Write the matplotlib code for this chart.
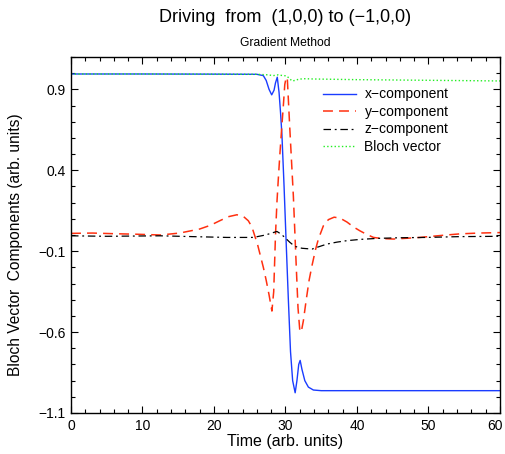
import matplotlib
matplotlib.use("Agg")
import matplotlib.pyplot as plt
import matplotlib.transforms as mtransforms
from matplotlib.ticker import MultipleLocator, FixedLocator

plt.rcParams['font.family'] = ['Liberation Sans', 'DejaVu Sans']

# x-component
t_x = [0, 10, 20, 26.0, 26.9, 27.3, 27.7, 28.07, 28.4, 28.6, 28.85, 29.1, 29.3, 29.5,
       29.8, 30.07, 30.4, 30.7, 31.0, 31.35, 31.6, 31.85, 32.05, 32.3, 32.7, 33.2,
       33.9, 35, 40, 50, 60]
x_vals = [0.995, 0.995, 0.994, 0.993, 0.985, 0.955, 0.9, 0.866, 0.895, 0.94, 0.975,
          0.88, 0.76, 0.62, 0.3, -0.02, -0.4, -0.72, -0.9, -0.975, -0.9, -0.8, -0.775,
          -0.83, -0.9, -0.94, -0.958, -0.962, -0.962, -0.962, -0.962]

# y-component
t_y = [0, 3, 6, 9, 12.5, 15.2, 18.0, 19.5, 20.8, 22.0, 23.2, 24.1, 24.8, 25.3, 25.7,
       26.1, 26.5, 26.9, 27.3, 27.7, 28.1, 28.35, 28.6, 28.8, 29.0, 29.2, 29.45, 29.7,
       29.9, 30.1, 30.25, 30.6, 31.1, 31.5, 31.75, 32.0, 32.2, 32.5, 32.9, 33.3, 33.7,
       34.2, 34.6, 35.3, 36.0, 36.8, 37.6, 38.6, 39.5, 40.4, 41.3, 42.3, 43.5, 45.1,
       47.0, 48.8, 50.5, 52.5, 54.4, 57, 60]
y_vals = [0.01, 0.012, 0.008, 0.005, 0.0, 0.012, 0.037, 0.06, 0.088, 0.113, 0.125,
          0.115, 0.088, 0.05, -0.005, -0.06, -0.13, -0.2, -0.28, -0.37, -0.47, -0.35,
          0.0, 0.2, 0.35, 0.49, 0.65, 0.8, 0.93, 0.975, 0.97, 0.66, 0.24, -0.19, -0.45,
          -0.59, -0.6, -0.53, -0.4, -0.28, -0.19, -0.09, -0.025, 0.057, 0.095, 0.11,
          0.105, 0.08, 0.05, 0.026, 0.005, -0.015, -0.022, -0.025, -0.02, -0.015,
          -0.008, 0.0, 0.007, 0.012, 0.015]

# z-component
t_z = [0, 5, 10, 12.5, 17, 21.8, 25.5, 27.2, 28.8, 29.4, 29.9, 30.6, 31.3, 32.3, 33.7,
       34.7, 35.8, 37.2, 38.6, 40.5, 42.8, 46, 49.7, 54.4, 60]
z_vals = [-0.005, -0.008, -0.006, -0.005, -0.01, -0.015, -0.015, 0.0, 0.022, 0.005,
          -0.015, -0.045, -0.07, -0.082, -0.087, -0.072, -0.056, -0.044, -0.035,
          -0.027, -0.021, -0.017, -0.015, -0.01, -0.008]

# Bloch vector length
t_b = [0, 10, 20, 26, 27.5, 28.3, 29.0, 29.6, 30.1, 30.5, 30.9, 31.3, 31.8, 32.5, 34,
       37, 40, 45, 50, 55, 60]
b_vals = [0.995, 0.995, 0.994, 0.993, 0.99, 0.985, 0.99, 0.985, 0.984, 0.97, 0.952,
          0.955, 0.962, 0.966, 0.964, 0.962, 0.96, 0.958, 0.956, 0.954, 0.952]

x_ticks = [0, 10, 20, 30, 40, 50, 60]
y_ticks = [-1.1, -0.6, -0.1, 0.4, 0.9]
y_tick_labels = ['\u22121.1', '\u22120.6', '\u22120.1', '0.4', '0.9']

fig = plt.figure(figsize=(5.06, 4.54), dpi=100)
ax = fig.add_axes([71/506, 1-413/454, 429/506, 356/454])

ax.plot(t_x, x_vals, color='#1a3cff', lw=1.0, label='x\u2212component')
ax.plot(t_y, y_vals, color='#ff3010', lw=1.1, dashes=(6.5, 4), label='y\u2212component')
ax.plot(t_z, z_vals, color='black', lw=0.9, dashes=(6, 3, 1.5, 3), label='z\u2212component')
ax.plot(t_b, b_vals, color='#22ee22', lw=1.0, ls=':', label='Bloch vector')

ax.set_xlim(0, 60)
ax.set_ylim(-1.1, 1.1)
ax.xaxis.set_major_locator(FixedLocator(x_ticks))
ax.xaxis.set_minor_locator(MultipleLocator(2))
ax.set_yticks(y_ticks)
ax.set_yticklabels(y_tick_labels)
ax.yaxis.set_minor_locator(MultipleLocator(0.1))
ax.tick_params(which='both', direction='in', top=True, right=True, labelsize=10, pad=4)
ax.tick_params(which='major', length=5, width=0.8)
ax.tick_params(which='minor', length=3, width=0.8)
for s in ax.spines.values():
    s.set_linewidth(1.0)

# nudge the last x tick label so it stays inside the canvas
last = ax.get_xticklabels()[-1]
last.set_transform(last.get_transform() + mtransforms.ScaledTranslation(-5/100, 0, fig.dpi_scale_trans))

ax.set_xlabel('Time (arb. units)', fontsize=11.5, labelpad=1)
ax.set_ylabel('Bloch Vector  Components (arb. units)', fontsize=11.2)
ax.yaxis.set_label_coords(-0.112, 0.472)

fig.text(285/506, 1-17/454, 'Driving  from  (1,0,0) to (\u22121,0,0)', ha='center', va='center', fontsize=13)
fig.text(285/506, 1-43/454, 'Gradient Method', ha='center', va='center', fontsize=8.7)

ax.legend(loc='upper left', bbox_to_anchor=(0.574, 0.93), frameon=False, fontsize=10,
          handlelength=2.4, handletextpad=0.6, labelspacing=0.25, borderaxespad=0)

fig.savefig('out.png', dpi=100)
